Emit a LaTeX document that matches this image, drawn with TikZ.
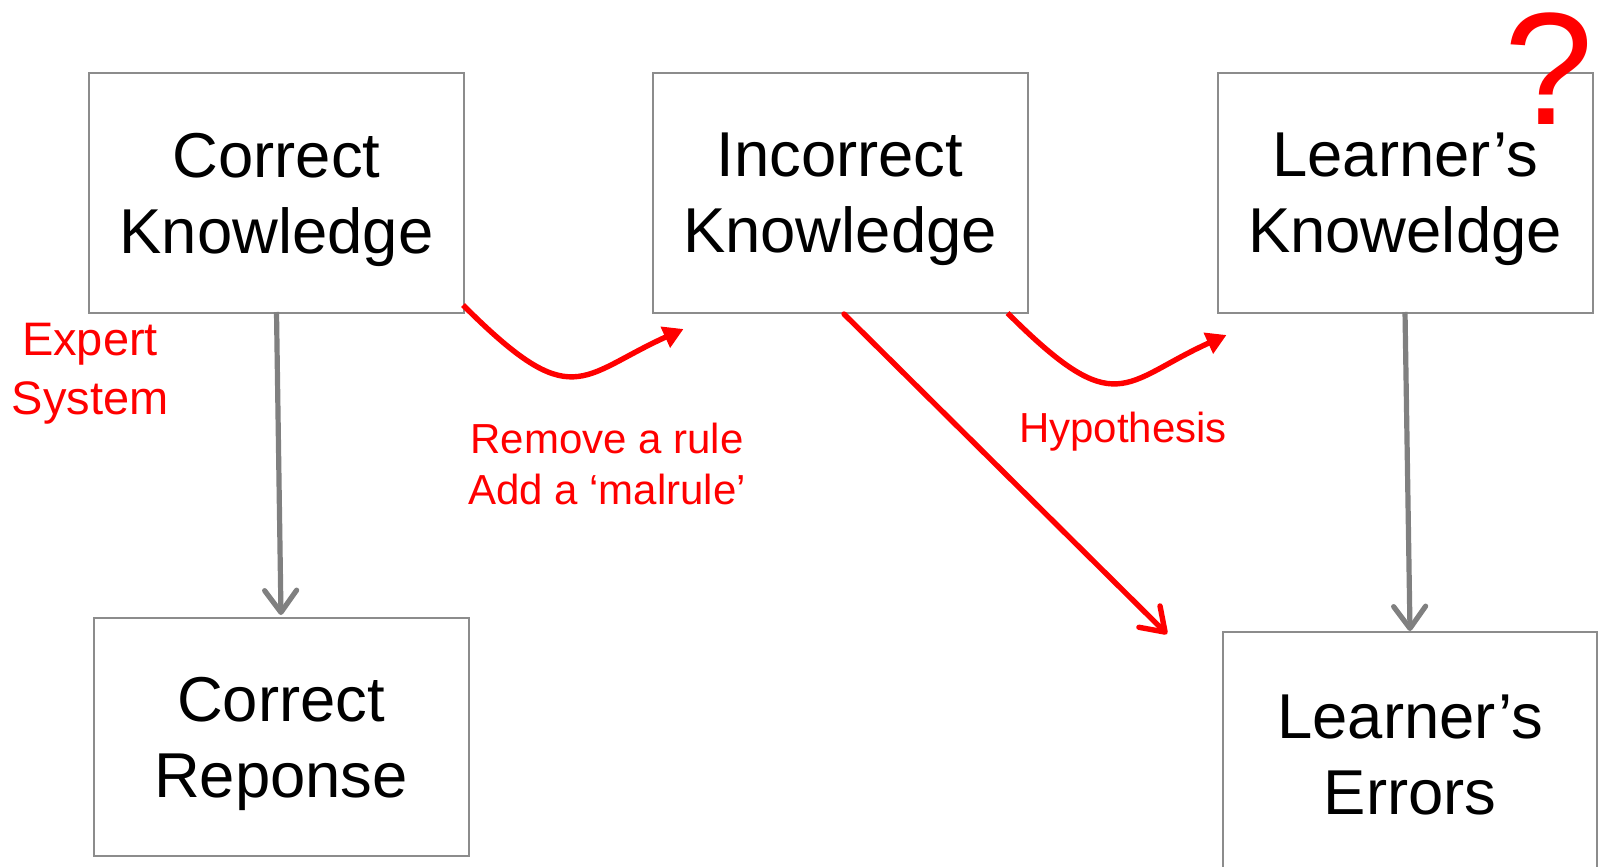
\documentclass[tikz,border=0pt]{standalone}
\usepackage{fontspec}
\setmainfont{Liberation Sans}
\usetikzlibrary{arrows.meta,calc}
\definecolor{boxgray}{HTML}{8C8C8C}
\definecolor{arrowgray}{HTML}{808080}
\definecolor{hintred}{HTML}{FF0000}

\begin{document}
\begin{tikzpicture}[x=0.5pt,y=-0.5pt,
  box/.style={draw=boxgray, line width=1pt, minimum width=187.5pt,
    minimum height=120pt, align=center, inner sep=0pt, text depth=0pt,
    font=\fontsize{31.7}{38}\selectfont},
  flow/.style={draw=arrowgray, line width=2.6pt,
    -{Straight Barb[length=11pt,width=16pt,round]}},
  bendarrow/.style={draw=hintred, line width=2.7pt,
    -{Triangle[length=10pt,width=11pt]}},
  linkarrow/.style={draw=hintred, line width=2.7pt, line cap=round,
    -{Straight Barb[length=11pt,width=15pt,round]}},
  note/.style={text=hintred, align=center, inner sep=0pt, text depth=0pt,
    font=\fontsize{21}{25.5}\selectfont}]

\useasboundingbox (0,0) rectangle (1598,866);

% knowledge boxes
\node[box] (ck) at (276.5,193) {Correct\\Knowledge};
\node[box] (ik) at (840,193) {Incorrect\\Knowledge};
\node[box] (lk) at (1405,193) {Learner’s\\Knoweldge};
\node[box, minimum height=119pt] (cr) at (281,737) {Correct\\Reponse};
\node[box, minimum width=187pt, minimum height=123pt] (le) at (1410,755) {Learner’s\\Errors};

% question mark over the learner model
\node[text=hintred, inner sep=0pt, font=\fontsize{80}{80}\selectfont] (qm) at (1549,69) {?};

% red annotations
\node[note, font=\fontsize{23.5}{29.5}\selectfont] (es) at (90,369) {Expert\\System};
\node[note] (rm) at (607,464) {Remove a rule\\Add a ‘malrule’};
\node[note] (hy) at (1123,427) {Hypothesis};

% gray derivation arrows
\draw[flow] ($(ck.south)+(0,-2)$) -- ($(cr.north)+(0,-2)$);
\draw[flow] ($(lk.south)+(0,-2)$) -- (le.north);

% red curved transformation arrows
\coordinate (r1s) at ($(ck.south east)+(-2,-9)$);
\coordinate (r1e) at ($(ik.south west)+(32,15)$);
\draw[bendarrow] (r1s) .. controls +(110,110) and +(-104,47) .. (r1e);

\coordinate (r2s) at ($(ik.south east)+(-21,-1)$);
\coordinate (r2e) at ($(lk.south west)+(10,21)$);
\draw[bendarrow] (r2s) .. controls +(110,110) and +(-104,47) .. (r2e);

% red diagonal arrow towards the errors
\coordinate (errpt) at (1167,634);
\draw[linkarrow] ($(ik.south)+(4,0)$) -- (errpt);

\end{tikzpicture}
\end{document}
